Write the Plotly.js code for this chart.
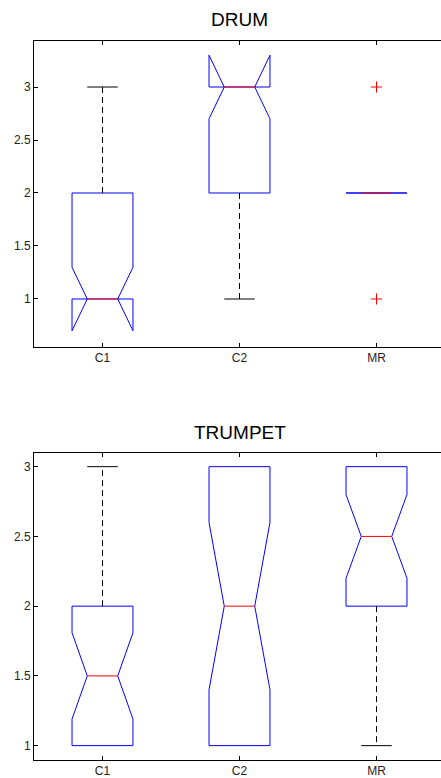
<!DOCTYPE html>
<html>
<head>
<meta charset="utf-8">
<script src="https://cdn.plot.ly/plotly-3.0.1.min.js"></script>
<style>
html,body{margin:0;padding:0;overflow:hidden;background:#fff;}
#chart{width:460px;height:778px;}
</style>
</head>
<body>
<div id="chart"></div>
<script>
// ---- data ----
const categories = ['C1', 'C2', 'MR'];
const positions = [1, 2, 3];

// DRUM
const drumQ1 = [1, 2, 2];
const drumMedian = [1, 3, 2];
const drumQ3 = [2, 3, 2];
const drumLowerWhisker = [1, 1, 2];
const drumUpperWhisker = [3, 3, 2];
const drumNotch = [0.3, 0.3, 0];
const drumOutlierX = ['MR', 'MR'];
const drumOutlierY = [1, 3];

// TRUMPET
const trumpetQ1 = [1, 1, 2];
const trumpetMedian = [1.5, 2, 2.5];
const trumpetQ3 = [2, 3, 3];
const trumpetLowerWhisker = [1, 1, 1];
const trumpetUpperWhisker = [3, 3, 3];
const trumpetNotch = [0.31, 0.6, 0.3];
const trumpetOutlierX = [];
const trumpetOutlierY = [];

const titles = ['DRUM', 'TRUMPET'];

// ---- styles ----
const HALF_BOX = 0.2225;          // half box width (x units)
const HALF_NOTCH = HALF_BOX / 2;  // half width at the notch waist
const FONT = 'Liberation Sans, Arial, Helvetica, sans-serif';

function catPos(c) { return positions[categories.indexOf(c)]; }

function buildTraces(q1, med, q3, lw, uw, notch, outX, outY, xa, ya) {
  const traces = [];
  // notched box outlines (MATLAB style)
  const bx = [], by = [];
  positions.forEach((p, i) => {
    const ln = med[i] - notch[i], un = med[i] + notch[i];
    const L = p - HALF_BOX, R = p + HALF_BOX, l = p - HALF_NOTCH, r = p + HALF_NOTCH;
    bx.push(L, L, l, L, L, R, R, r, R, R, L, null);
    by.push(q1[i], ln, med[i], un, q3[i], q3[i], un, med[i], ln, q1[i], q1[i], null);
  });
  traces.push({type: 'scatter', mode: 'lines', xaxis: xa, yaxis: ya, x: bx, y: by,
    line: {color: 'rgb(0,0,255)', width: 1}, hoverinfo: 'skip', showlegend: false});
  // whiskers (dashed) and caps
  const wx = [], wy = [], cx = [], cy = [];
  positions.forEach((p, i) => {
    if (uw[i] > q3[i]) {
      wx.push(p, p, null); wy.push(q3[i], uw[i], null);
      cx.push(p - HALF_NOTCH, p + HALF_NOTCH, null); cy.push(uw[i], uw[i], null);
    }
    if (lw[i] < q1[i]) {
      wx.push(p, p, null); wy.push(q1[i], lw[i], null);
      cx.push(p - HALF_NOTCH, p + HALF_NOTCH, null); cy.push(lw[i], lw[i], null);
    }
  });
  traces.push({type: 'scatter', mode: 'lines', xaxis: xa, yaxis: ya, x: wx, y: wy,
    line: {color: '#000', width: 1, dash: '6px,4px'}, hoverinfo: 'skip', showlegend: false});
  traces.push({type: 'scatter', mode: 'lines', xaxis: xa, yaxis: ya, x: cx, y: cy,
    line: {color: '#000', width: 1}, hoverinfo: 'skip', showlegend: false});
  // red medians
  const mx = [], my = [];
  positions.forEach((p, i) => {
    mx.push(p - HALF_NOTCH, p + HALF_NOTCH, null); my.push(med[i], med[i], null);
  });
  traces.push({type: 'scatter', mode: 'lines', xaxis: xa, yaxis: ya, x: mx, y: my,
    line: {color: 'rgb(255,0,0)', width: 1}, hoverinfo: 'skip', showlegend: false});
  // outliers
  traces.push({type: 'scatter', mode: 'markers', xaxis: xa, yaxis: ya,
    x: outX.map(catPos), y: outY,
    marker: {symbol: 'cross-thin-open', size: 8, color: 'rgb(255,0,0)', line: {color: 'rgb(255,0,0)', width: 1}},
    hoverinfo: 'skip', showlegend: false});
  return traces;
}

const data = [].concat(
  buildTraces(drumQ1, drumMedian, drumQ3, drumLowerWhisker, drumUpperWhisker, drumNotch, drumOutlierX, drumOutlierY, 'x', 'y'),
  buildTraces(trumpetQ1, trumpetMedian, trumpetQ3, trumpetLowerWhisker, trumpetUpperWhisker, trumpetNotch, trumpetOutlierX, trumpetOutlierY, 'x2', 'y2')
);

const H = 778;
function xAxis(anchor) {
  return {anchor: anchor, domain: [0, 1], range: [0.5, 3.5],
    tickvals: positions, ticktext: categories,
    ticks: 'inside', ticklen: 4, tickcolor: '#000', tickwidth: 1,
    showline: true, linecolor: '#000', linewidth: 1, mirror: 'ticks',
    showgrid: false, zeroline: false,
    tickfont: {family: FONT, size: 12, color: '#222'}};
}
function yAxis(anchor, range, top, bottom) {
  return {anchor: anchor, domain: [1 - bottom / H, 1 - top / H], range: range,
    tickvals: [1, 1.5, 2, 2.5, 3], ticktext: ['1', '1.5', '2', '2.5', '3'],
    ticks: 'inside', ticklen: 4, tickcolor: '#000', tickwidth: 1,
    showline: true, linecolor: '#000', linewidth: 1, mirror: 'ticks',
    showgrid: false, zeroline: false,
    tickfont: {family: FONT, size: 12, color: '#222'}};
}

const layout = {
  width: 460, height: H,
  margin: {l: 34, r: 15, t: 0, b: 0},
  paper_bgcolor: '#fff', plot_bgcolor: '#fff',
  showlegend: false,
  xaxis: xAxis('y'),
  yaxis: yAxis('x', [0.547, 3.434], 41, 347),
  xaxis2: xAxis('y2'),
  yaxis2: yAxis('x2', [0.897, 3.098], 453, 760),
  annotations: [
    {text: titles[0], xref: 'paper', yref: 'paper', x: 0.5, y: 1 - 19.5 / H,
     xanchor: 'center', yanchor: 'middle', showarrow: false,
     font: {family: FONT, size: 19, color: '#000'}},
    {text: titles[1], xref: 'paper', yref: 'paper', x: 0.5, y: 1 - 432 / H,
     xanchor: 'center', yanchor: 'middle', showarrow: false,
     font: {family: FONT, size: 19, color: '#000'}}
  ]
};

Plotly.newPlot('chart', data, layout, {staticPlot: true, displayModeBar: false});
</script>
</body>
</html>
